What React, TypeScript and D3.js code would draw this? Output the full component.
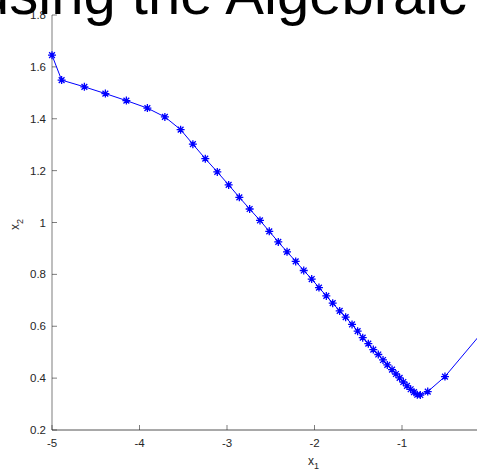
import { useRef, useEffect } from "react";
import { select, scaleLinear, line } from "d3";

// state trajectory (x1, x2)
const x1Values = [
  -5.0, -4.89, -4.63, -4.39, -4.15, -3.91, -3.71, -3.53, -3.39, -3.248, -3.111,
  -2.981, -2.859, -2.741, -2.623, -2.517, -2.414, -2.314, -2.215, -2.123,
  -2.032, -1.949, -1.865, -1.792, -1.712, -1.644, -1.571, -1.507, -1.449,
  -1.385, -1.328, -1.271, -1.217, -1.168, -1.114, -1.069, -1.027, -0.985,
  -0.943, -0.901, -0.863, -0.825, -0.791, -0.706, -0.509, 0.0,
];
const x2Values = [
  1.645, 1.549, 1.523, 1.497, 1.47, 1.441, 1.407, 1.358, 1.302, 1.246, 1.195,
  1.145, 1.097, 1.052, 1.008, 0.966, 0.925, 0.887, 0.85, 0.815, 0.782, 0.749,
  0.717, 0.689, 0.659, 0.635, 0.607, 0.581, 0.556, 0.533, 0.51, 0.491, 0.47,
  0.451, 0.433, 0.416, 0.401, 0.385, 0.37, 0.357, 0.346, 0.336, 0.335, 0.348,
  0.406, 0.61,
];
const xTicks = [-5, -4, -3, -2, -1, 0, 1];
const yTicks = [0.2, 0.4, 0.6, 0.8, 1, 1.2, 1.4, 1.6, 1.8];
const titleText = "using the Algebraic Riccati Equation";

export default function App() {
  const svgRef = useRef<SVGSVGElement>(null);

  useEffect(() => {
    const svg = select(svgRef.current);
    svg.selectAll("*").remove();

    const xScale = scaleLinear().domain([-5, 1]).range([52, 577]);
    const yScale = scaleLinear().domain([0.2, 1.8]).range([430, 15]);
    const axisColor = "#262626";
    const font = "'Liberation Sans', Arial, Helvetica, sans-serif";

    // axes: left and bottom only, ticks pointing inward
    svg
      .append("line")
      .attr("x1", xScale(-5))
      .attr("x2", xScale(1))
      .attr("y1", yScale(0.2))
      .attr("y2", yScale(0.2))
      .attr("stroke", axisColor)
      .attr("stroke-width", 0.8);
    svg
      .append("line")
      .attr("x1", xScale(-5))
      .attr("x2", xScale(-5))
      .attr("y1", yScale(0.2))
      .attr("y2", yScale(1.8))
      .attr("stroke", axisColor)
      .attr("stroke-width", 0.6);

    const xt = svg.append("g");
    xTicks.forEach((t) => {
      xt.append("line")
        .attr("x1", xScale(t))
        .attr("x2", xScale(t))
        .attr("y1", yScale(0.2))
        .attr("y2", yScale(0.2) - 5)
        .attr("stroke", axisColor)
        .attr("stroke-width", 0.6);
      xt.append("text")
        .attr("x", xScale(t))
        .attr("y", yScale(0.2) + 17)
        .attr("text-anchor", "middle")
        .attr("font-family", font)
        .attr("font-size", 11.5)
        .attr("fill", axisColor)
        .text(String(t));
    });

    const yt = svg.append("g");
    yTicks.forEach((t) => {
      yt.append("line")
        .attr("x1", xScale(-5))
        .attr("x2", xScale(-5) + 5)
        .attr("y1", yScale(t))
        .attr("y2", yScale(t))
        .attr("stroke", axisColor)
        .attr("stroke-width", 0.6);
      yt.append("text")
        .attr("x", xScale(-5) - 6)
        .attr("y", yScale(t) + 4)
        .attr("text-anchor", "end")
        .attr("font-family", font)
        .attr("font-size", 11.5)
        .attr("fill", axisColor)
        .text(String(t));
    });

    // axis labels with subscripts
    const xl = svg
      .append("text")
      .attr("x", 308)
      .attr("y", 465)
      .attr("font-family", font)
      .attr("font-size", 12)
      .attr("fill", axisColor);
    xl.append("tspan").text("x");
    xl.append("tspan").attr("dy", 4).attr("font-size", 9).text("1");

    const yl = svg
      .append("text")
      .attr("transform", "translate(19,230) rotate(-90)")
      .attr("font-family", font)
      .attr("font-size", 12)
      .attr("fill", axisColor);
    yl.append("tspan").text("x");
    yl.append("tspan").attr("dy", 4).attr("font-size", 9).text("2");

    const pts = x1Values.map((x, i) => [x, x2Values[i]] as [number, number]);
    const path = line<[number, number]>()
      .x((d) => xScale(d[0]))
      .y((d) => yScale(d[1]));

    svg
      .append("path")
      .attr("d", path(pts))
      .attr("fill", "none")
      .attr("stroke", "#0000ff")
      .attr("stroke-width", 1);

    // asterisk markers
    const r = 4;
    const markers = svg.append("g").attr("stroke", "#0000ff").attr("stroke-width", 1.3);
    pts.forEach(([x, y]) => {
      const cx = xScale(x);
      const cy = yScale(y);
      const d = r * 0.72;
      markers
        .append("path")
        .attr(
          "d",
          `M${cx - r},${cy}H${cx + r}M${cx},${cy - r}V${cy + r}` +
            `M${cx - d},${cy - d}L${cx + d},${cy + d}M${cx - d},${cy + d}L${cx + d},${cy - d}`
        );
    });

    // title, mostly outside the frame
    svg
      .append("text")
      .attr("x", -23)
      .attr("y", 14)
      .attr("font-family", font)
      .attr("font-size", 58)
      .attr("fill", "#000")
      .text(titleText);
  }, []);

  return (
    <svg
      ref={svgRef}
      width={477}
      height={470}
      style={{ position: "absolute", left: 0, top: 0, background: "#fff" }}
    />
  );
}
